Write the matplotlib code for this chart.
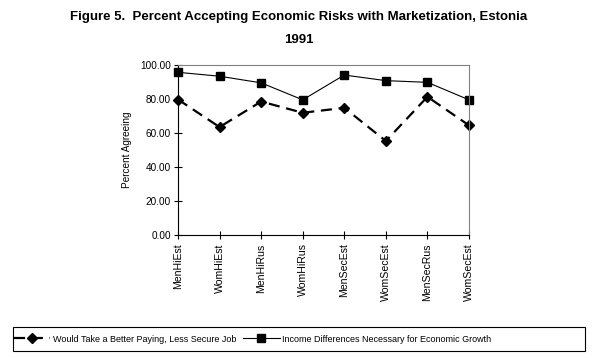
import matplotlib
matplotlib.use("Agg")
import matplotlib.pyplot as plt
from matplotlib.patches import Rectangle

categories = ["MenHiEst", "WomHiEst", "MenHiRus", "WomHiRus",
              "MenSecEst", "WomSecEst", "MenSecRus", "WomSecEst"]
better_job = [79.7, 63.5, 78.5, 71.9, 74.8, 55.3, 81.3, 64.5]
income_diff = [95.7, 93.4, 89.5, 79.5, 94.1, 90.8, 89.8, 79.5]
yticks = [0, 20, 40, 60, 80, 100]
label_job = "Would Take a Better Paying, Less Secure Job"
label_inc = "Income Differences Necessary for Economic Growth"

plt.rcParams['font.family'] = ['Liberation Sans', 'DejaVu Sans']

W, H = 598, 358
fig = plt.figure(figsize=(W / 100, H / 100), dpi=100)
ax = fig.add_axes([178 / W, 1 - 235 / H, (469 - 178) / W, (235 - 65) / H])

x = list(range(len(categories)))
l1, = ax.plot(x, better_job, color='black', linestyle=(0, (5, 3)), linewidth=1.6,
              marker='D', markersize=5, label=label_job, clip_on=False)
l2, = ax.plot(x, income_diff, color='black', linestyle='-', linewidth=0.8,
              marker='s', markersize=6, label=label_inc, clip_on=False)

ax.set_xlim(0, len(categories) - 1)
ax.set_ylim(0, 100)
ax.set_yticks(yticks)
ax.set_yticklabels([f"{v:.2f}" for v in yticks], fontsize=7.2)
ax.set_xticks(x)
ax.set_xticklabels(categories, rotation=90, fontsize=7.6)
ax.tick_params(axis='x', direction='inout', length=6, width=0.8, pad=3)
ax.tick_params(axis='y', direction='inout', length=6, width=0.8, pad=2)
for s in ['top', 'right']:
    ax.spines[s].set_color('#808080')
    ax.spines[s].set_linewidth(0.8)
for s in ['left', 'bottom']:
    ax.spines[s].set_color('black')
    ax.spines[s].set_linewidth(0.8)
ax.set_ylabel("Percent Agreeing", fontsize=7.2, labelpad=6)

fig.text(0.5, 1 - 17 / H, "Figure 5.  Percent Accepting Economic Risks with Marketization, Estonia",
         ha='center', va='center', fontsize=9.5, fontweight='bold')
fig.text(0.5, 1 - 40 / H, "1991", ha='center', va='center', fontsize=9.5, fontweight='bold')

fig.patches.append(Rectangle((13 / W, 1 - 351 / H), (585 - 13) / W, 24 / H,
                             transform=fig.transFigure, fill=False,
                             edgecolor='black', linewidth=0.8))
fig.legend(handles=[l1, l2], loc='center left', bbox_to_anchor=(14 / W, 1 - 339 / H),
           ncol=2, frameon=False, fontsize=6.5, handlelength=4, columnspacing=0.8,
           handletextpad=0.3, borderaxespad=0, borderpad=0)

fig.savefig("out.png", dpi=100)
